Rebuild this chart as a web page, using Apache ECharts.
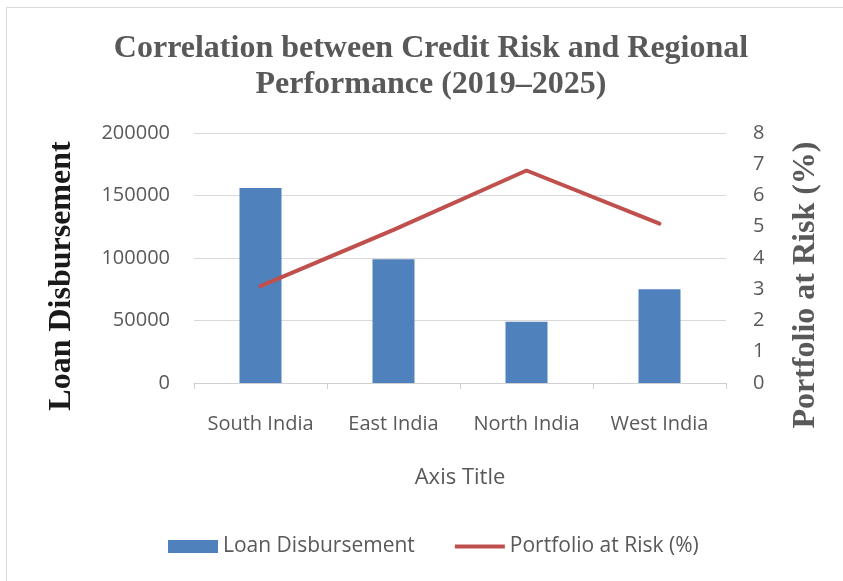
<!DOCTYPE html>
<html>
<head>
<meta charset="utf-8">
<script src="https://cdn.jsdelivr.net/npm/echarts@6/dist/echarts.min.js"></script>
<style>html,body{margin:0;padding:0;background:#fff}#c{width:843px;height:581px}</style>
</head>
<body>
<div id="c"></div>
<script>
const categories = ['South India', 'East India', 'North India', 'West India'];
const loanDisbursement = [156000, 99000, 49000, 75000];
const portfolioAtRisk = [3.1, 4.9, 6.8, 5.1];
const titleText = 'Correlation between Credit Risk and Regional\nPerformance (2019–2025)';
const leftAxisTitle = 'Loan Disbursement';
const rightAxisTitle = 'Portfolio at Risk (%)';
const xAxisTitle = 'Axis Title';

const chart = echarts.init(document.getElementById('c'), null, {renderer: 'canvas'});
const sans = 'Open Sans';
const serif = 'Liberation Serif';
const grey = '#595959';
chart.setOption({
  animation: false,
  backgroundColor: '#fff',
  graphic: [{
    type: 'rect', shape: {x: 6.5, y: 7.5, width: 900, height: 700},
    style: {fill: 'none', stroke: '#d9d9d9', lineWidth: 1}, silent: true
  }, {
    type: 'text', x: 62, y: 276, rotation: Math.PI / 2, silent: true,
    style: {text: leftAxisTitle, fontFamily: serif, fontWeight: 'bold', fontSize: 32, fill: '#1a1a1a', align: 'center', verticalAlign: 'middle'}
  }, {
    type: 'text', x: 806, y: 285, rotation: Math.PI / 2, silent: true,
    style: {text: rightAxisTitle, fontFamily: serif, fontWeight: 'bold', fontSize: 32, fill: grey, align: 'center', verticalAlign: 'middle'}
  }],
  title: {
    text: titleText, left: 426, top: 26, textAlign: 'center',
    textStyle: {fontFamily: serif, fontWeight: 'bold', fontSize: 32, color: grey, lineHeight: 36}
  },
  grid: {left: 194, right: 117, top: 133, bottom: 198},
  legend: {
    top: 536, left: 168, padding: 0, itemWidth: 50, itemHeight: 13, itemGap: 40,
    textStyle: {fontFamily: sans, fontSize: 21, color: grey},
    data: [
      {name: 'Loan Disbursement', icon: 'rect'},
      {name: 'Portfolio at Risk (%)', icon: 'path://M0,0 L50,0 L50,4 L0,4 Z', itemStyle: {color: '#C0504D'}}
    ]
  },
  xAxis: {
    type: 'category', data: categories,
    name: xAxisTitle, nameLocation: 'middle', nameGap: 84,
    nameTextStyle: {fontFamily: sans, fontSize: 22, color: grey},
    axisLine: {lineStyle: {color: '#d0d0d0', width: 1}},
    axisTick: {show: true, length: 6, interval: 0, lineStyle: {color: '#d0d0d0'}},
    axisLabel: {fontFamily: sans, fontSize: 20, color: grey, margin: 31, interval: 0, hideOverlap: false}
  },
  yAxis: [{
    type: 'value', min: 0, max: 200000, interval: 50000,
    axisLine: {show: false}, axisTick: {show: false},
    axisLabel: {fontFamily: sans, fontSize: 20, color: grey, margin: 24, formatter: v => String(v)},
    splitLine: {lineStyle: {color: '#d9d9d9', width: 1}}
  }, {
    type: 'value', min: 0, max: 8, interval: 1,
    axisLine: {show: false}, axisTick: {show: false},
    axisLabel: {fontFamily: sans, fontSize: 20, color: grey, margin: 27},
    splitLine: {show: false}
  }],
  series: [{
    name: 'Loan Disbursement', type: 'bar', data: loanDisbursement, barWidth: 42,
    itemStyle: {color: '#4F81BD'}
  }, {
    name: 'Portfolio at Risk (%)', type: 'line', yAxisIndex: 1, data: portfolioAtRisk,
    showSymbol: false, symbol: 'none',
    lineStyle: {color: '#C0504D', width: 4, cap: 'round'}, itemStyle: {color: '#C0504D'}
  }]
});
</script>
</body>
</html>
